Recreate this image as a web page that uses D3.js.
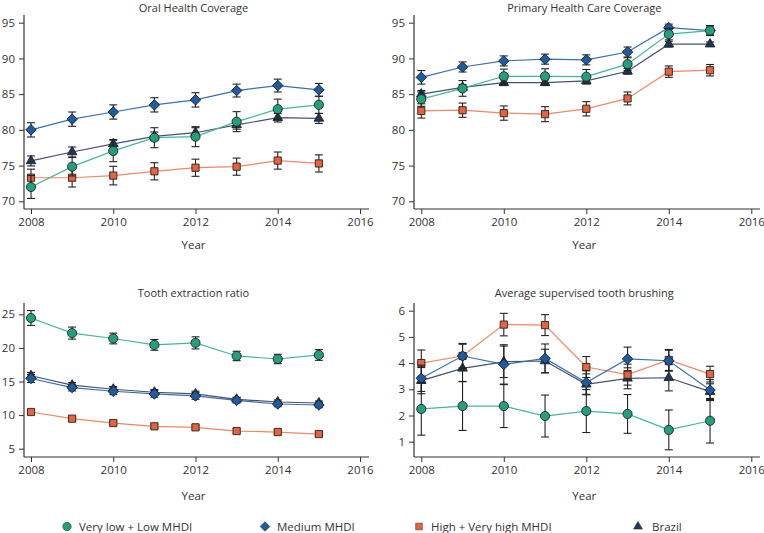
<!DOCTYPE html>
<html><head><meta charset="utf-8">
<script src="https://cdn.jsdelivr.net/npm/d3@7"></script>
<style>
body{margin:0;background:#fff;}
svg text{font-family:"Open Sans",sans-serif;fill:#333;}
</style></head>
<body><svg id="c" width="764" height="533"></svg>
<script>
const years = [2008,2009,2010,2011,2012,2013,2014,2015];
const xTicks = [2008,2010,2012,2014,2016];
const seriesNames = ["Very low + Low MHDI","Medium MHDI","High + Very high MHDI","Brazil"];
const titles = ["Oral Health Coverage","Primary Health Care Coverage","Tooth extraction ratio","Average supervised tooth brushing"];

// Oral Health Coverage
const oralLow = [72.0,74.85,77.05,78.9,79.05,81.15,82.9,83.5];
const oralLowErr = [1.6,1.3,1.5,1.4,1.4,1.4,1.4,1.2];
const oralMed = [80.0,81.5,82.5,83.5,84.2,85.5,86.2,85.6];
const oralMedErr = [1.0,1.0,1.0,1.0,1.0,0.9,0.9,0.9];
const oralHigh = [73.3,73.3,73.6,74.2,74.7,74.85,75.7,75.3];
const oralHighErr = [1.2,1.3,1.3,1.2,1.2,1.2,1.2,1.2];
const oralBrazil = [75.65,76.9,78.05,79.1,79.6,80.7,81.7,81.6];
const oralBrazilErr = [0.7,0.7,0.6,0.6,0.7,0.6,0.6,0.7];

// Primary Health Care Coverage
const phcLow = [84.3,85.8,87.5,87.5,87.45,89.2,93.4,93.9];
const phcLowErr = [1.0,1.1,1.0,1.05,1.0,0.9,0.8,0.7];
const phcMed = [87.35,88.8,89.65,89.9,89.8,90.9,94.3,93.9];
const phcMedErr = [0.95,0.7,0.7,0.7,0.7,0.7,0.5,0.5];
const phcHigh = [82.65,82.75,82.35,82.2,82.95,84.4,88.15,88.35];
const phcHighErr = [1.0,1.0,1.0,1.05,1.0,0.9,0.8,0.8];
const phcBrazil = [85.0,85.95,86.6,86.6,86.85,88.2,92.0,92.0];
const phcBrazilErr = [0.5,0.4,0.4,0.4,0.4,0.4,0.4,0.3];

// Tooth extraction ratio
const extLow = [24.45,22.2,21.4,20.45,20.75,18.8,18.35,18.95];
const extLowErr = [1.1,0.9,0.8,0.8,0.9,0.7,0.7,0.8];
const extMed = [15.45,14.1,13.55,13.15,12.85,12.2,11.65,11.5];
const extMedErr = [0.6,0.5,0.5,0.5,0.5,0.4,0.4,0.4];
const extHigh = [10.46,9.47,8.82,8.33,8.18,7.63,7.48,7.18];
const extHighErr = [0.3,0.3,0.3,0.3,0.3,0.3,0.3,0.3];
const extBrazil = [15.85,14.45,13.85,13.4,13.15,12.35,11.95,11.8];
const extBrazilErr = [0.5,0.4,0.4,0.4,0.4,0.3,0.3,0.3];

// Average supervised tooth brushing
const brLow = [2.25,2.36,2.36,1.98,2.17,2.06,1.45,1.8];
const brLowErr = [1.0,0.93,0.82,0.8,0.82,0.74,0.76,0.85];
const brMed = [3.42,4.27,3.95,4.18,3.26,4.16,4.09,2.97];
const brMedErr = [0.5,0.48,0.75,0.55,0.45,0.45,0.4,0.4];
const brHigh = [4.0,4.27,5.47,5.45,3.85,3.56,4.12,3.58];
const brHighErr = [0.5,0.45,0.43,0.4,0.4,0.4,0.4,0.3];
const brBrazil = [3.33,3.8,4.05,4.08,3.19,3.42,3.44,2.91];
const brBrazilErr = [0.5,0.5,0.6,0.45,0.4,0.4,0.5,0.3];

const yTicks1 = [70,75,80,85,90,95];
const yTicks3 = [5,10,15,20,25];
const yTicks4 = [1,2,3,4,5,6];

const fills = ["#20a07c","#1d5ba3","#e8633d","#1f3658"];
const lineCols = ["#42b898","#3a6fb0","#ee8866","#46526c"];
const shapes = [d3.symbolCircle,d3.symbolSquare,d3.symbolSquare,d3.symbolTriangle];
const rot = [0,45,0,0];
const sizes = [66,55,52,40];

const svg = d3.select("#c");

const panels = [
  {title:titles[0], left:24, top:15, bottom:209, xr:[31,360], xEnd:369, yd:[70,95], yr:[201.3,22.7], yt:yTicks1, ty:12, yearY:249,
   s:[[oralLow,oralLowErr],[oralMed,oralMedErr],[oralHigh,oralHighErr],[oralBrazil,oralBrazilErr]]},
  {title:titles[1], left:414, top:15, bottom:209, xr:[421.3,751.3], xEnd:760, yd:[70,95], yr:[201.3,22.7], yt:yTicks1, ty:12, yearY:249,
   s:[[phcLow,phcLowErr],[phcMed,phcMedErr],[phcHigh,phcHighErr],[phcBrazil,phcBrazilErr]]},
  {title:titles[2], left:24, top:303, bottom:457, xr:[31,360], xEnd:369, yd:[5,25], yr:[448.7,314.3], yt:yTicks3, ty:297, yearY:500,
   s:[[extLow,extLowErr],[extMed,extMedErr],[extHigh,extHighErr],[extBrazil,extBrazilErr]]},
  {title:titles[3], left:414, top:303, bottom:457, xr:[421.3,751.3], xEnd:760, yd:[1,6], yr:[441.7,310.7], yt:yTicks4, ty:297, yearY:500,
   s:[[brLow,brLowErr],[brMed,brMedErr],[brHigh,brHighErr],[brBrazil,brBrazilErr]]}
];

const drawOrder = [3,2,1,0];

panels.forEach(p=>{
  const x = d3.scaleLinear().domain([2008,2016]).range(p.xr);
  const y = d3.scaleLinear().domain(p.yd).range(p.yr);
  const g = svg.append("g");
  const xa = g.append("g").attr("transform",`translate(0,${p.bottom})`)
    .call(d3.axisBottom(x).tickValues(xTicks).tickFormat(d3.format("d")).tickSize(5).tickPadding(4));
  xa.select(".domain").remove();
  g.append("line").attr("x1",p.left).attr("x2",p.xEnd).attr("y1",p.bottom).attr("y2",p.bottom).attr("stroke","#333").attr("stroke-width",1.2);
  const ya = g.append("g").attr("transform",`translate(${p.left},0)`)
    .call(d3.axisLeft(y).tickValues(p.yt).tickFormat(d3.format("d")).tickSize(5).tickPadding(4));
  ya.select(".domain").remove();
  g.append("line").attr("x1",p.left).attr("x2",p.left).attr("y1",p.top).attr("y2",p.bottom).attr("stroke","#333").attr("stroke-width",1.2);
  g.selectAll(".tick line").attr("stroke","#333");
  g.selectAll(".tick text").attr("font-size","11.5px").attr("fill","#333").style("font-family","'Open Sans',sans-serif");
  const cx = (p.xr[0]+p.xr[1])/2 - 2;
  g.append("text").attr("x",cx).attr("y",p.ty).attr("text-anchor","middle").attr("font-size","11px").text(p.title);
  g.append("text").attr("x",cx).attr("y",p.yearY).attr("text-anchor","middle").attr("font-size","11.5px").text("Year");
  drawOrder.forEach(i=>{
    const [vals,errs] = p.s[i];
    const pts = years.map((yr,k)=>({yr,v:vals[k],e:errs[k]}));
    const eg = g.append("g").attr("stroke","#222").attr("stroke-width",1.1);
    pts.forEach(d=>{
      const xx = x(d.yr), y1 = y(d.v-d.e), y2 = y(d.v+d.e);
      eg.append("line").attr("x1",xx).attr("x2",xx).attr("y1",y1).attr("y2",y2);
      eg.append("line").attr("x1",xx-4).attr("x2",xx+4).attr("y1",y1).attr("y2",y1);
      eg.append("line").attr("x1",xx-4).attr("x2",xx+4).attr("y1",y2).attr("y2",y2);
    });
    g.append("path").datum(pts).attr("fill","none").attr("stroke",lineCols[i]).attr("stroke-width",1.2)
      .attr("d",d3.line().x(d=>x(d.yr)).y(d=>y(d.v)));
    g.selectAll(null).data(pts).enter().append("path")
      .attr("transform",d=>`translate(${x(d.yr)},${y(d.v)}) rotate(${rot[i]})`)
      .attr("d",d3.symbol().type(shapes[i]).size(sizes[i]))
      .attr("fill",fills[i]).attr("stroke","#222").attr("stroke-width",0.9);
  });
});

const legX = [67,265,419,638];
const legTX = [79,277,431,652];
const lg = svg.append("g");
seriesNames.forEach((n,i)=>{
  lg.append("path").attr("transform",`translate(${legX[i]},526.5) rotate(${rot[i]})`)
    .attr("d",d3.symbol().type(shapes[i]).size(sizes[i]*0.85)).attr("fill",fills[i]).attr("stroke","#222").attr("stroke-width",0.5);
  lg.append("text").attr("x",legTX[i]).attr("y",530.5).attr("font-size","11.5px").text(n);
});
</script></body></html>
